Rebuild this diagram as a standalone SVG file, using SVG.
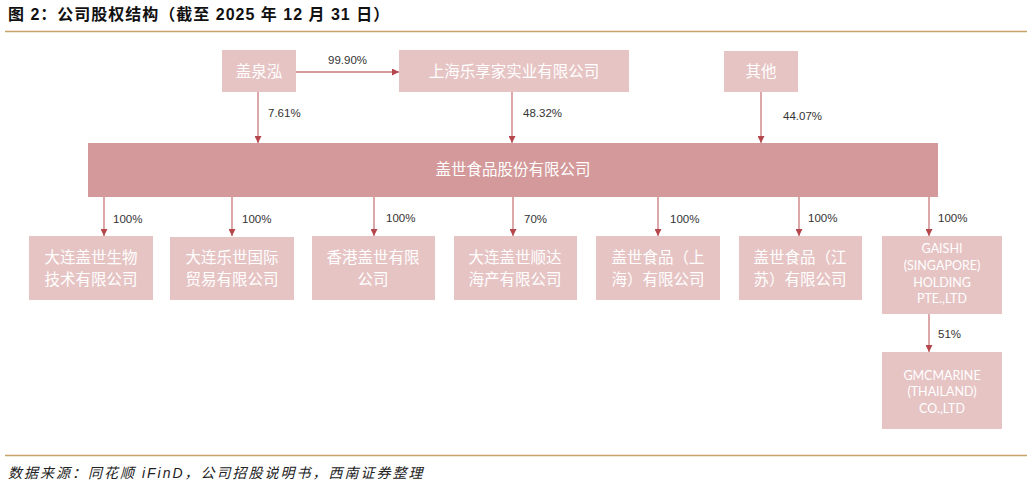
<svg xmlns="http://www.w3.org/2000/svg" width="1032" height="487" viewBox="0 0 1032 487">
<defs>
<marker id="ah" viewBox="0 0 10 10" refX="10" refY="5" markerWidth="7" markerHeight="7" orient="auto" markerUnits="userSpaceOnUse">
<path d="M0,0 L10,5 L0,10 z" fill="#b5464b"/>
</marker>
</defs>
<style>
.box{fill:#e6c4c4}
.main{fill:#d4999a}
.bt{font-family:"Liberation Sans","Noto Sans CJK SC",sans-serif;font-size:15.5px;fill:#ffffff;text-anchor:middle}
.et{font-family:Lato,"Liberation Sans",sans-serif;font-size:12.5px;fill:#ffffff;text-anchor:middle}
.pc{font-family:"Liberation Sans","Noto Sans CJK SC",sans-serif;font-size:11.5px;fill:#333333}
.ln{stroke:#c9797c;stroke-width:1.3;fill:none;marker-end:url(#ah)}
</style>
<rect width="1032" height="487" fill="#ffffff"/>
<text x="8" y="20" font-family="Liberation Sans,'Noto Sans CJK SC',sans-serif" font-size="16" font-weight="bold" letter-spacing="1" fill="#111">图 2：公司股权结构（截至 2025 年 12 月 31 日）</text>
<line x1="5" y1="31.5" x2="1027" y2="31.5" stroke="#c9a26a" stroke-width="1.5"/>
<line x1="5" y1="455.5" x2="1027" y2="455.5" stroke="#c9a26a" stroke-width="1.5"/>
<text x="8" y="478" font-family="Liberation Sans,'Noto Sans CJK SC',sans-serif" font-size="14" font-style="italic" letter-spacing="2" fill="#222">数据来源：同花顺 iFinD，公司招股说明书，西南证券整理</text>

<g id="connectors">
<path class="ln" d="M296,72 H399"/>
<path class="ln" d="M258,92 V143"/>
<path class="ln" d="M512,92 V143"/>
<path class="ln" d="M761,92 V143"/>
<path class="ln" d="M104,197 V236"/>
<path class="ln" d="M232,197 V236"/>
<path class="ln" d="M374,197 V236"/>
<path class="ln" d="M513,197 V236"/>
<path class="ln" d="M658,197 V236"/>
<path class="ln" d="M799,197 V236"/>
<path class="ln" d="M929,197 V236"/>
<path class="ln" d="M929,314 V352"/>
<text class="pc" x="328" y="64">99.90%</text>
<text class="pc" x="268" y="117">7.61%</text>
<text class="pc" x="523" y="117">48.32%</text>
<text class="pc" x="783" y="120">44.07%</text>
<text class="pc" x="113" y="223">100%</text>
<text class="pc" x="242" y="223">100%</text>
<text class="pc" x="386" y="222">100%</text>
<text class="pc" x="524" y="223">70%</text>
<text class="pc" x="670" y="223">100%</text>
<text class="pc" x="808" y="222">100%</text>
<text class="pc" x="938" y="222">100%</text>
<text class="pc" x="938" y="338">51%</text>
</g>

<g id="n-gqh"><rect class="box" x="222" y="50" width="74" height="42"/><text class="bt" x="259" y="77">盖泉泓</text></g>
<g id="n-shlxj"><rect class="box" x="399" y="50" width="230" height="42"/><text class="bt" x="514" y="77">上海乐享家实业有限公司</text></g>
<g id="n-qt"><rect class="box" x="724" y="51" width="74" height="41"/><text class="bt" x="761" y="77">其他</text></g>
<g id="n-main"><rect class="main" x="88" y="143" width="850" height="54"/><text class="bt" x="513" y="175">盖世食品股份有限公司</text></g>
<g id="n-c1"><rect class="box" x="29" y="236" width="124" height="64"/><text class="bt" x="91" y="263">大连盖世生物</text><text class="bt" x="91" y="285">技术有限公司</text></g>
<g id="n-c2"><rect class="box" x="170" y="237" width="124" height="63"/><text class="bt" x="232" y="263">大连乐世国际</text><text class="bt" x="232" y="285">贸易有限公司</text></g>
<g id="n-c3"><rect class="box" x="312" y="236" width="123" height="64"/><text class="bt" x="373" y="263">香港盖世有限</text><text class="bt" x="373" y="285">公司</text></g>
<g id="n-c4"><rect class="box" x="454" y="236" width="123" height="64"/><text class="bt" x="515" y="263">大连盖世顺达</text><text class="bt" x="515" y="285">海产有限公司</text></g>
<g id="n-c5"><rect class="box" x="596" y="236" width="124" height="64"/><text class="bt" x="658" y="263">盖世食品（上</text><text class="bt" x="658" y="285">海）有限公司</text></g>
<g id="n-c6"><rect class="box" x="739" y="236" width="123" height="64"/><text class="bt" x="800" y="263">盖世食品（江</text><text class="bt" x="800" y="285">苏）有限公司</text></g>
<g id="n-c7"><rect class="box" x="882" y="236" width="120" height="78"/><text class="et" x="942" y="253">GAISHI</text><text class="et" x="942" y="270">(SINGAPORE)</text><text class="et" x="942" y="287">HOLDING</text><text class="et" x="942" y="303">PTE.,LTD</text></g>
<g id="n-c8"><rect class="box" x="882" y="352" width="120" height="77"/><text class="et" x="942" y="380">GMCMARINE</text><text class="et" x="942" y="396">(THAILAND)</text><text class="et" x="942" y="413">CO.,LTD</text></g>
</svg>
